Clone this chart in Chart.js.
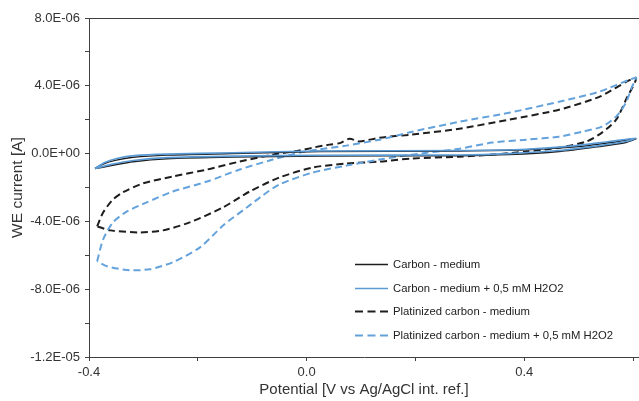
<!DOCTYPE html>
<html>
<head>
<meta charset="utf-8">
<script src="https://cdn.jsdelivr.net/npm/chart.js@4.4.1/dist/chart.umd.min.js"></script>
<style>
  html, body { margin: 0; padding: 0; background: #fff; }
  #wrap { position: relative; width: 639px; height: 401px; }
</style>
</head>
<body>
<div id="wrap"><canvas id="cv"></canvas></div>
<script>
// potential in V, current in microampere (axis labels show amperes)
const carbonV = [-0.389, -0.374, -0.352, -0.319, -0.257, -0.136, 0.024, 0.281, 0.404, 0.495, 0.556, 0.605,
  0.587, 0.538, 0.464, 0.372, 0.281, 0.024, -0.136, -0.257, -0.319, -0.361, -0.389];
const carbonI = [-0.88, -0.62, -0.40, -0.22, -0.09, 0.0, 0.12, 0.16, 0.22, 0.40, 0.64, 0.88,
  0.66, 0.42, 0.12, -0.06, -0.12, -0.14, -0.20, -0.30, -0.48, -0.72, -0.88];

const carbonH2O2V = [-0.389, -0.371, -0.349, -0.316, -0.257, -0.136, 0.024, 0.281, 0.404, 0.495, 0.556, 0.605,
  0.587, 0.538, 0.464, 0.372, 0.281, 0.024, -0.136, -0.257, -0.319, -0.361, -0.389];
const carbonH2O2I = [-0.88, -0.53, -0.29, -0.12, -0.03, 0.05, 0.15, 0.18, 0.26, 0.47, 0.71, 0.91,
  0.71, 0.47, 0.18, 0.0, -0.08, -0.10, -0.15, -0.24, -0.41, -0.65, -0.88];

const platV = [-0.385, -0.374, -0.356, -0.338, -0.301, -0.246, -0.183, -0.123, -0.062, -0.013, 0.011, 0.042, 0.061,
  0.079, 0.097, 0.134, 0.194, 0.281, 0.372, 0.464, 0.538, 0.605,
  0.587, 0.569, 0.543, 0.514, 0.464, 0.404, 0.341, 0.281, 0.194, 0.134, 0.073, 0.011, -0.050,
  -0.105, -0.154, -0.215, -0.264, -0.306, -0.361, -0.385];
const platI = [-4.29, -3.47, -2.71, -2.29, -1.76, -1.35, -0.94, -0.47, -0.06, 0.18, 0.35, 0.53, 0.62,
  0.88, 0.71, 0.94, 1.12, 1.47, 2.00, 2.59, 3.35, 4.47,
  3.18, 2.00, 1.24, 0.71, 0.35, 0.12, -0.06, -0.18, -0.29, -0.47, -0.59, -0.82, -1.41,
  -2.24, -3.18, -4.06, -4.53, -4.65, -4.53, -4.29];

const platH2O2V = [-0.385, -0.374, -0.356, -0.330, -0.294, -0.246, -0.183, -0.123, -0.062, -0.013, 0.024, 0.073,
  0.134, 0.194, 0.281, 0.372, 0.464, 0.538, 0.605,
  0.598, 0.587, 0.569, 0.543, 0.506, 0.464, 0.404, 0.341, 0.281, 0.194, 0.134, 0.073, 0.011, -0.050,
  -0.080, -0.110, -0.152, -0.196, -0.246, -0.288, -0.325, -0.367, -0.385];
const platH2O2I = [-6.35, -5.06, -4.06, -3.41, -2.88, -2.24, -1.65, -0.94, -0.35, 0.06, 0.25, 0.47,
  0.82, 1.29, 1.88, 2.41, 3.06, 3.65, 4.47,
  3.94, 3.00, 2.18, 1.59, 1.29, 1.00, 0.82, 0.65, 0.29, -0.06, -0.35, -0.71, -1.12, -1.82,
  -2.45, -3.18, -4.20, -5.53, -6.41, -6.82, -6.88, -6.65, -6.35];

const seriesNames = ['Carbon - medium', 'Carbon - medium + 0,5 mM H2O2',
  'Platinized carbon - medium', 'Platinized carbon - medium + 0,5 mM H2O2'];

const xTickValues = [-0.4, -0.2, 0.0, 0.2, 0.4, 0.6];
const xTickLabels = ['-0.4', '', '0.0', '', '0.4', ''];
const yTickValues = [-12, -10, -8, -6, -4, -2, 0, 2, 4, 6, 8];
const yTickLabels = ['-1.2E-05', '', '-8.0E-06', '', '-4.0E-06', '', '0.0E+00', '', '4.0E-06', '', '8.0E-06'];

const BLACK = '#1e1e1e';
const BLUE = '#5b9bd5';
const BLUE_DASH = '#64a2dc';
const FONT = '"Liberation Sans", Arial, sans-serif';

function toPoints(xs, ys) {
  return xs.map((x, i) => ({ x, y: ys[i] }));
}

const styles = [
  { color: BLACK, dash: [], width: 1.5, order: 1 },
  { color: BLUE, dash: [], width: 1.6, order: 0 },
  { color: BLACK, dash: [7, 4], width: 2, order: 3 },
  { color: BLUE_DASH, dash: [7, 4], width: 2, order: 2 }
];
const seriesData = [
  toPoints(carbonV, carbonI),
  toPoints(carbonH2O2V, carbonH2O2I),
  toPoints(platV, platI),
  toPoints(platH2O2V, platH2O2I)
];

const datasets = seriesNames.map((name, i) => ({
  label: name,
  data: seriesData[i],
  showLine: true,
  borderColor: styles[i].color,
  backgroundColor: styles[i].color,
  borderDash: styles[i].dash,
  borderWidth: styles[i].width,
  pointRadius: 0,
  tension: 0.25,
  fill: false,
  order: styles[i].order
}));

// legend inside the plot area, bottom right, plus the top border line
const frameAndLegend = {
  id: 'frameAndLegend',
  afterDraw(chart) {
    const { ctx, chartArea } = chart;
    ctx.save();
    ctx.strokeStyle = '#404040';
    ctx.lineWidth = 1;
    ctx.beginPath();
    ctx.moveTo(chartArea.left, chartArea.top + 0.5);
    ctx.lineTo(chartArea.right, chartArea.top + 0.5);
    ctx.stroke();

    const x0 = chartArea.right - 284;
    const y0 = chartArea.bottom - 93;
    const rowH = 23.7;
    ctx.font = '11.3px ' + FONT;
    ctx.textBaseline = 'middle';
    ctx.fillStyle = '#222';
    seriesNames.forEach((name, i) => {
      const y = Math.round(y0 + i * rowH) + 0.5;
      ctx.strokeStyle = styles[i].color;
      ctx.lineWidth = styles[i].dash.length ? 2 : 1.6;
      ctx.setLineDash(styles[i].dash.length ? [8, 4.5] : []);
      ctx.beginPath();
      ctx.moveTo(x0, y);
      ctx.lineTo(x0 + 33, y);
      ctx.stroke();
      ctx.setLineDash([]);
      ctx.fillText(name, x0 + 38, y);
    });
    ctx.restore();
  }
};

new Chart(document.getElementById('cv'), {
  type: 'scatter',
  data: { datasets },
  options: {
    responsive: true,
    maintainAspectRatio: false,
    animation: false,
    layout: { padding: { top: 18, right: 0, bottom: 0, left: 0 } },
    plugins: { legend: { display: false }, tooltip: { enabled: false } },
    scales: {
      x: {
        type: 'linear',
        min: -0.4,
        max: 0.611,
        afterFit(scale) { scale.height = 44; },
        afterBuildTicks(scale) { scale.ticks = xTickValues.map(v => ({ value: v })); },
        ticks: {
          padding: 4,
          color: '#333',
          font: { family: FONT, size: 13 },
          maxRotation: 0,
          autoSkip: false,
          callback: (v) => xTickLabels[xTickValues.findIndex(t => Math.abs(t - v) < 1e-9)] ?? ''
        },
        grid: { drawOnChartArea: false, tickLength: 4, color: '#404040' },
        border: { display: true, color: '#404040', width: 1 },
        title: {
          display: true,
          text: 'Potential [V vs Ag/AgCl int. ref.]',
          color: '#333',
          font: { family: FONT, size: 15 },
          padding: { top: 0, bottom: 2 }
        }
      },
      y: {
        type: 'linear',
        min: -12,
        max: 8,
        afterFit(scale) { scale.width = 89; },
        afterBuildTicks(scale) { scale.ticks = yTickValues.map(v => ({ value: v })); },
        ticks: {
          padding: 5,
          color: '#333',
          font: { family: FONT, size: 13 },
          autoSkip: false,
          callback: (v) => yTickLabels[yTickValues.findIndex(t => Math.abs(t - v) < 1e-9)] ?? ''
        },
        grid: { drawOnChartArea: false, tickLength: 4, color: '#404040' },
        border: { display: true, color: '#404040', width: 1 },
        title: {
          display: true,
          text: 'WE current [A]',
          color: '#333',
          font: { family: FONT, size: 15.5 },
          padding: { top: 8, bottom: 0 }
        }
      }
    }
  },
  plugins: [frameAndLegend]
});
</script>
</body>
</html>
